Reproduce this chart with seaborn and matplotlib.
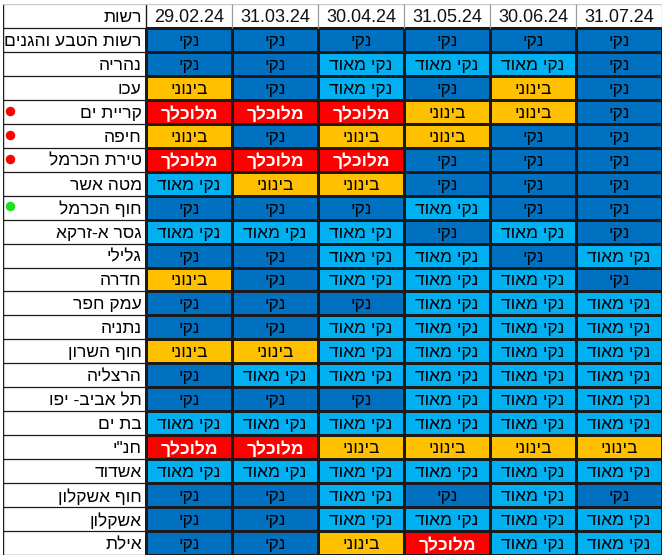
import numpy as np
import pandas as pd
import matplotlib.pyplot as plt
from matplotlib.colors import ListedColormap
import seaborn as sns

# מצב הניקיון
VC = 'נקי מאוד'
C = 'נקי'
M = 'בינוני'
D = 'מלוכלך'

dates = ['29.02.24', '31.03.24', '30.04.24', '31.05.24', '30.06.24', '31.07.24']

names = ['רשות הטבע והגנים', 'נהריה', 'עכו', 'קריית ים', 'חיפה', 'טירת הכרמל',
         'מטה אשר', 'חוף הכרמל', 'גסר א-זרקא', 'גלילי', 'חדרה', 'עמק חפר',
         'נתניה', 'חוף השרון', 'הרצליה', 'תל אביב- יפו', 'בת ים', 'חנ"י',
         'אשדוד', 'חוף אשקלון', 'אשקלון', 'אילת']

feb = [C, C, M, D, M, D, VC, C, VC, C, M, C, C, M, C, C, VC, D, VC, C, C, C]
mar = [C, C, C, D, C, D, M, C, VC, C, C, C, C, M, VC, C, VC, D, VC, C, C, C]
apr = [C, VC, VC, D, M, D, M, C, VC, VC, VC, C, VC, VC, VC, C, VC, M, VC, VC, VC, M]
may = [C, VC, C, M, M, C, C, VC, C, VC, VC, VC, VC, VC, VC, VC, VC, M, VC, C, VC, D]
jun = [C, VC, M, M, C, C, C, C, VC, C, VC, VC, VC, VC, VC, VC, VC, M, VC, VC, VC, VC]
jul = [C, C, C, C, C, C, C, C, C, VC, C, VC, VC, VC, VC, VC, VC, M, VC, C, VC, VC]

levels = [VC, C, M, D]
level_colors = ['#00B0F0', '#0070C0', '#FFC000', '#FF0000']

# נקודות בצד הטבלה
dot_names = ['קריית ים', 'חיפה', 'טירת הכרמל', 'חוף הכרמל']
dot_colors = ['#FF0000', '#FF0000', '#FF0000', '#22DD22']


def heb(s):
    # matplotlib לא הופך טקסט מימין לשמאל
    return s[::-1]


data = pd.DataFrame(dict(zip(dates, [feb, mar, apr, may, jun, jul])), index=names)
codes = data.apply(lambda col: col.map(levels.index))
labels = data.apply(lambda col: col.map(heb))

plt.rcParams['font.family'] = ['Liberation Sans', 'DejaVu Sans']

W, H = 665, 559
fig = plt.figure(figsize=(W / 100, H / 100), dpi=100)
ax = fig.add_axes([3 / W, 4 / H, 659 / W, 551 / H])

sns.heatmap(codes, cmap=ListedColormap(level_colors), vmin=-0.5, vmax=3.5,
            annot=labels.values, fmt='', cbar=False, linewidths=0.9, linecolor='#1a1a1a',
            annot_kws={'color': 'black', 'fontsize': 12.5}, xticklabels=False,
            yticklabels=False, ax=ax)

for t, s in zip(ax.texts, data.values.ravel()):
    t.set_va('center_baseline')
    if s == D:
        t.set_color('white')
        t.set_fontweight('bold')

n = len(names)
name_w = 143 / 86  # רוחב עמודת השמות ביחידות של עמודה
ax.set_xlim(-name_w, len(dates))
ax.set_ylim(n, -1)
ax.set_axis_off()

# עמודת השמות
ax.hlines(np.arange(n + 1), -name_w, 0, color='#1a1a1a', lw=0.9)
ax.vlines([-name_w, 0], -1, n, color='#1a1a1a', lw=1.0)
for i, name in enumerate(names):
    ax.text(-0.05, i + 0.5, heb(name), ha='right', va='center_baseline', fontsize=12.5)

# כותרת
ax.hlines(-1, -name_w, len(dates), color='#c8c8c8', lw=0.9)
ax.vlines(np.arange(1, len(dates) + 1), -1, 0, color='#9a9a9a', lw=0.9)
ax.text(-0.05, -0.5, heb('רשות'), ha='right', va='center_baseline', fontsize=12.5)
for j, d in enumerate(dates):
    ax.text(j + 0.5, -0.5, d, ha='center', va='center_baseline', fontsize=13, color='#111111')

for name, col in zip(dot_names, dot_colors):
    ax.scatter(-name_w + 0.08, names.index(name) + 0.45, s=34, color=col, zorder=5)

fig.savefig('out.png', dpi=100)
